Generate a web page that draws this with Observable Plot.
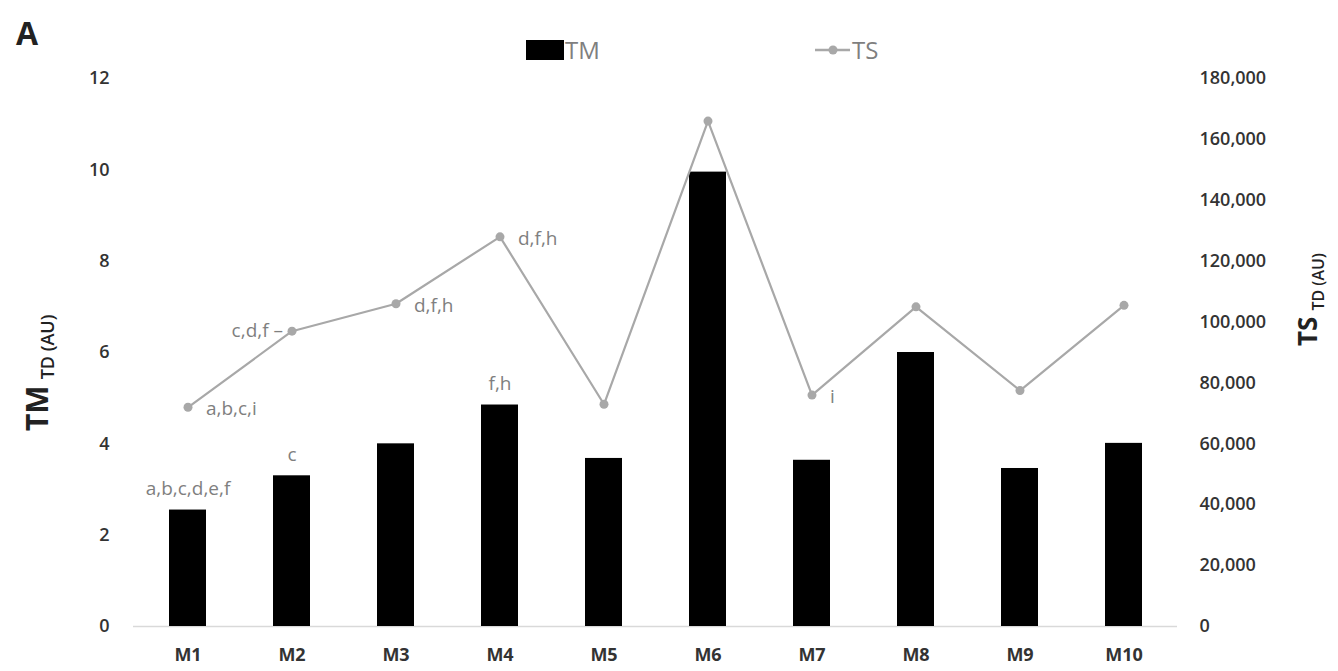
<!DOCTYPE html>
<html><head><meta charset="utf-8">
<script src="https://cdn.jsdelivr.net/npm/d3@7"></script>
<script src="https://cdn.jsdelivr.net/npm/@observablehq/plot@0.6"></script>
<style>
body{margin:0;background:#fff;}
#chart{position:relative;width:1338px;height:671px;}
</style></head><body><div id="chart"></div>
<script>
const categories = ["M1","M2","M3","M4","M5","M6","M7","M8","M9","M10"];
const tmValues = [2.55, 3.3, 4.0, 4.85, 3.68, 9.95, 3.64, 6.0, 3.46, 4.01];
const tsValues = [72000, 97000, 106000, 128000, 73000, 166000, 76000, 105000, 77500, 105500];
const tmLabels = ["a,b,c,d,e,f", "c", "", "f,h", "", "", "", "", "", ""];
const tsLabelsRight = ["a,b,c,i", "", "d,f,h", "d,f,h", "", "", "i", "", "", ""];
const tsLabelsLeft = ["", "c,d,f –", "", "", "", "", "", "", "", ""];
const tmTicks = [0, 2, 4, 6, 8, 10, 12];
const tsTicks = [0, 20000, 40000, 60000, 80000, 100000, 120000, 140000, 160000, 180000];
const seriesNames = ["TM", "TS"];
const panelLetter = "A";
const leftTitle = ["TM", "TD (AU)"];
const rightTitle = ["TS", "TD (AU)"];

const tmMax = 12, tsMax = 180000, ratio = tsMax / tmMax;
const data = categories.map((c, i) => ({
  cat: c, tm: tmValues[i], ts: tsValues[i],
  tmLabel: tmLabels[i], tsR: tsLabelsRight[i], tsL: tsLabelsLeft[i]
}));

const gray = "#a8a8a8", labelGray = "#7f7f7f", tickColor = "#333";

const plot = Plot.plot({
  width: 1338, height: 671,
  marginLeft: 133, marginRight: 161, marginTop: 78, marginBottom: 45,
  style: {fontFamily: "'Open Sans', sans-serif", background: "#fff"},
  x: {type: "band", domain: categories, paddingInner: 0.645, paddingOuter: 0.3225},
  y: {domain: [0, tmMax], label: null},
  marks: [
    Plot.ruleY([0], {stroke: "#d9d9d9", strokeWidth: 1.5}),
    Plot.barY(data, {x: "cat", y: "tm", fill: "#000"}),
    Plot.line(data, {x: "cat", y: d => d.ts / ratio, stroke: gray, strokeWidth: 2.2}),
    Plot.dot(data, {x: "cat", y: d => d.ts / ratio, r: 4.5, fill: gray, stroke: "none"}),
    Plot.text(data.filter(d => d.tmLabel), {x: "cat", y: "tm", text: "tmLabel", dy: -21, fill: labelGray, fontSize: 19}),
    Plot.text(data.filter(d => d.tsR), {x: "cat", y: d => d.ts / ratio, text: "tsR", dx: 18, dy: 2, textAnchor: "start", fill: labelGray, fontSize: 19}),
    Plot.text(data.filter(d => d.tsL), {x: "cat", y: d => d.ts / ratio, text: "tsL", dx: -9, dy: 0, textAnchor: "end", fill: labelGray, fontSize: 19}),
    Plot.axisY(tmTicks, {anchor: "left", tickSize: 0, tickPadding: 24, label: null, fontSize: 18, fontWeight: 600, color: tickColor}),
    Plot.axisY(tsTicks.map(v => v / ratio), {anchor: "right", tickSize: 0, tickPadding: 22, label: null, fontSize: 18, fontWeight: 600, color: tickColor,
      tickFormat: d => d3.format(",")(Math.round(d * ratio))}),
    Plot.axisX({tickSize: 0, tickPadding: 22, label: null, fontSize: 18, fontWeight: 700, color: tickColor})
  ]
});
document.getElementById("chart").appendChild(plot);

const svg = d3.select(plot);
const g = svg.append("g").attr("text-anchor", "start");
// Panel letter
g.append("text").attr("x", 16).attr("y", 45).attr("font-size", 32).attr("font-weight", 700)
  .attr("fill", "#222").text(panelLetter);

// Legend
g.append("rect").attr("x", 526).attr("y", 40).attr("width", 38).attr("height", 20).attr("fill", "#000");
g.append("text").attr("x", 565).attr("y", 59).attr("font-size", 24).attr("fill", labelGray).text(seriesNames[0]);
g.append("line").attr("x1", 815).attr("x2", 850).attr("y1", 50).attr("y2", 50).attr("stroke", gray).attr("stroke-width", 2.5);
g.append("circle").attr("cx", 833).attr("cy", 50).attr("r", 4.5).attr("fill", gray);
g.append("text").attr("x", 852).attr("y", 59).attr("font-size", 24).attr("fill", labelGray).text(seriesNames[1]);

// Axis titles
const lt = g.append("text").attr("transform", "translate(48,431) rotate(-90)").attr("fill", "#222");
lt.append("tspan").attr("font-size", 30).attr("font-weight", 700).text(leftTitle[0]);
lt.append("tspan").attr("font-size", 18).attr("font-weight", 600).attr("dy", 6).attr("dx", 6).text(leftTitle[1]);

const rt = g.append("text").attr("transform", "translate(1317,346) rotate(-90)").attr("fill", "#222");
rt.append("tspan").attr("font-size", 26).attr("font-weight", 700).text(rightTitle[0]);
rt.append("tspan").attr("font-size", 16).attr("font-weight", 600).attr("dy", 7).attr("dx", 6).text(rightTitle[1]);
</script>
</body></html>
